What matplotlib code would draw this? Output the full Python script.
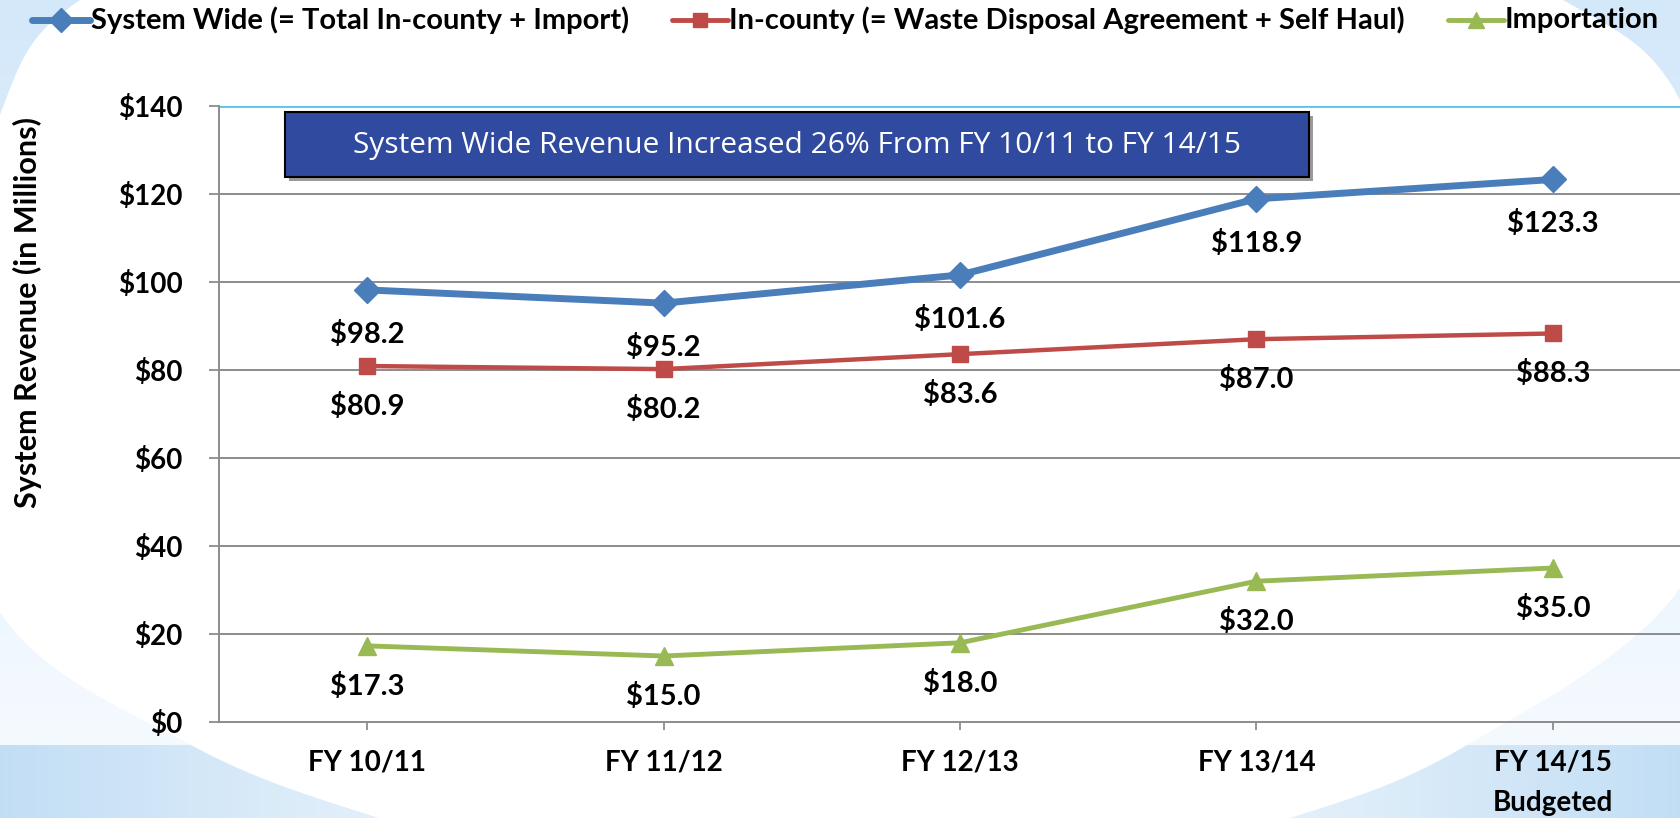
import numpy as np
import matplotlib
matplotlib.use("Agg")
import matplotlib.pyplot as plt
from matplotlib.patches import Rectangle, Polygon

W, H = 1680, 818

years = ["FY 10/11", "FY 11/12", "FY 12/13", "FY 13/14", "FY 14/15\nBudgeted"]
system_wide = [98.2, 95.2, 101.6, 118.9, 123.3]
in_county = [80.9, 80.2, 83.6, 87.0, 88.3]
importation = [17.3, 15.0, 18.0, 32.0, 35.0]
y_ticks = [0, 20, 40, 60, 80, 100, 120, 140]

names = ["System Wide (= Total In-county + Import)",
         "In-county (= Waste Disposal Agreement + Self Haul)",
         "Importation"]
callout = "System Wide Revenue Increased 26% From FY 10/11 to FY 14/15"
ylabel = "System Revenue (in Millions)"

BLUE = "#4A7EBB"
RED = "#BE4B48"
GREEN = "#98B954"
GRID = "#8C8C8C"
CYAN = "#5BC5E6"

plt.rcParams["font.family"] = ["Lato", "DejaVu Sans"]


def smooth_closed(pts, n=40):
    # closed catmull-rom curve through the given points
    pts = np.asarray(pts, float)
    k = len(pts)
    out = []
    for i in range(k):
        p0, p1, p2, p3 = pts[i - 1], pts[i], pts[(i + 1) % k], pts[(i + 2) % k]
        for s in np.linspace(0, 1, n, endpoint=False):
            out.append(0.5 * (2 * p1 + (-p0 + p2) * s
                              + (2 * p0 - 5 * p1 + 4 * p2 - p3) * s ** 2
                              + (-p0 + 3 * p1 - 3 * p2 + p3) * s ** 3))
    return np.array(out)


fig = plt.figure(figsize=(16.8, 8.18), dpi=100)

# slide background, drawn in pixel coordinates
bg = fig.add_axes([0, 0, 1, 1], zorder=0)
bg.set_xlim(0, W)
bg.set_ylim(H, 0)
bg.axis("off")

top_c = np.array([0.83, 0.91, 0.98])
bot_c = np.array([0.96, 0.98, 1.0])
t = np.linspace(0, 1, 256)[:, None, None]
bg.imshow(top_c + (bot_c - top_c) * t, extent=(0, W, 745, 0), aspect="auto", zorder=0)

edge_c = np.array([0.76, 0.87, 0.96])
f = np.abs(np.linspace(-1, 1, 512))[None, :, None] ** 1.3
bg.imshow(1 - (1 - edge_c) * f, extent=(0, W, H, 745), aspect="auto", zorder=0)

shape = [(300, -90), (830, -170), (1350, -90), (1563, 0), (1680, 100), (1745, 345),
         (1680, 588), (1467, 745), (1290, 818), (1050, 878), (830, 893), (610, 878),
         (379, 818), (191, 745), (0, 612), (-55, 362), (0, 115), (80, 0)]
bg.add_patch(Polygon(smooth_closed(shape), closed=True, facecolor="white",
                     edgecolor="none", zorder=1))

# legend
legend_items = [(32, 90, BLUE, "D", 12, 5), (672, 728, RED, "s", 10, 3.5),
                (1448, 1504, GREEN, "^", 12, 3.5)]
for (x0, x1, c, m, ms, lw), name in zip(legend_items, names):
    bg.plot([x0, x1], [20, 20], color=c, lw=lw, solid_capstyle="round", zorder=2)
    bg.plot([(x0 + x1) / 2], [20], marker=m, ms=ms, color=c, zorder=3)
    bg.text(x1 + 1, 20, name, ha="left", va="center", fontsize=21,
            fontweight="bold", zorder=3)

# callout box
bg.add_patch(Rectangle((289, 116), 1024, 65, facecolor="#9a9a9a", edgecolor="none", zorder=2))
bg.add_patch(Rectangle((285, 112), 1024, 65, facecolor="#2F4A9E", edgecolor="black",
                       lw=1.5, zorder=3))
bg.text(285 + 512, 112 + 33, callout, ha="center", va="center", color="white",
        fontsize=21.5, family=["Open Sans", "DejaVu Sans"], zorder=4)

fig.text(27 / W, 1 - 312 / H, ylabel, rotation=90, ha="center", va="center",
         fontsize=22, fontweight="bold")

# chart
ax = fig.add_axes([219 / W, (H - 722) / H, (1701 - 219) / W, (722 - 106) / H], zorder=1)
ax.set_facecolor("none")
x = np.arange(len(years))
ax.set_xlim(-0.5, 4.5)
ax.set_ylim(0, 140)

for v in y_ticks[1:]:
    ax.axhline(v, color=CYAN if v == y_ticks[-1] else GRID,
               lw=2 if v == y_ticks[-1] else 1.4, zorder=0.5)

series = [(system_wide, BLUE, "D", 13, 5, 32),
          (in_county, RED, "s", 11, 3.2, 29),
          (importation, GREEN, "^", 13, 3.5, 29)]
for vals, c, m, ms, lw, off in series:
    ax.plot(x, vals, color=c, lw=lw, marker=m, ms=ms, zorder=3)
    for xi, v in zip(x, vals):
        ax.annotate(f"${v:.1f}", (xi, v), xytext=(0, -off), textcoords="offset points",
                    ha="center", va="center", fontsize=21, fontweight="bold")

ax.set_yticks(y_ticks)
ax.set_yticklabels([f"${v}" for v in y_ticks], fontsize=20, fontweight="bold")
ax.set_xticks(x)
ax.set_xticklabels(years, fontsize=20, fontweight="bold")
for lab in ax.get_xticklabels():
    lab.set_linespacing(1.7)
ax.tick_params(axis="y", length=7, width=1.3, color=GRID, pad=19)
ax.tick_params(axis="x", length=5.5, width=1.3, color=GRID, pad=14)
for s in ["top", "right"]:
    ax.spines[s].set_visible(False)
for s in ["left", "bottom"]:
    ax.spines[s].set_color(GRID)
    ax.spines[s].set_linewidth(1.4)

fig.savefig("out.png", dpi=100)
